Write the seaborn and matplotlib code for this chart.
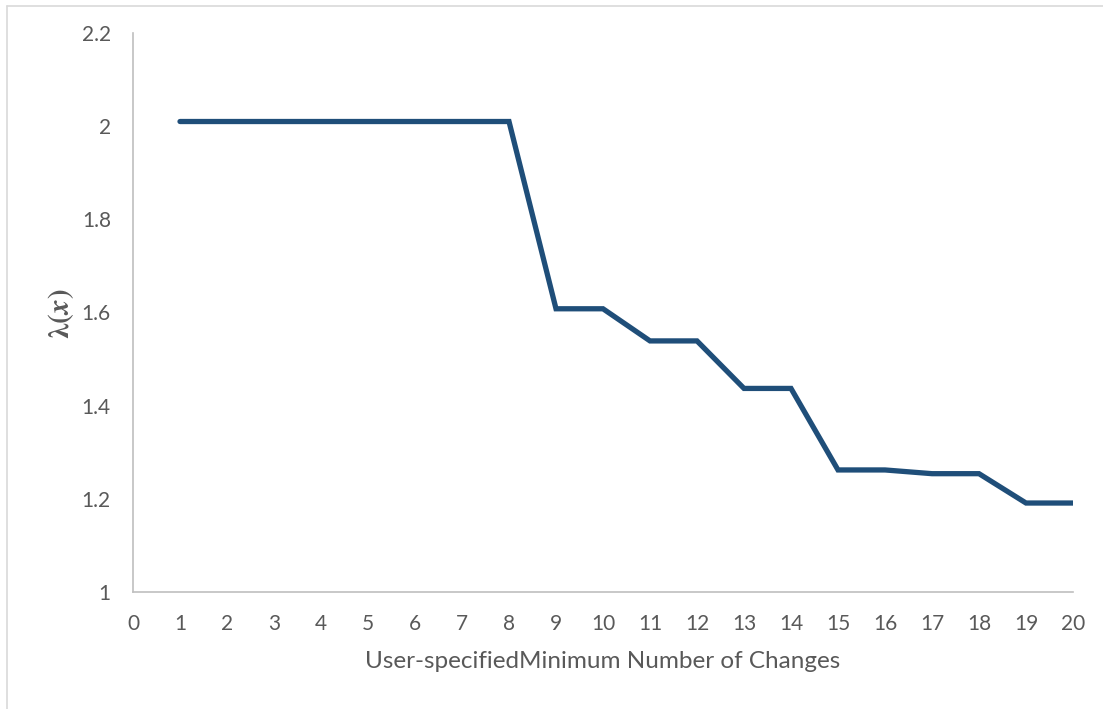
import matplotlib
matplotlib.use("Agg")
import matplotlib.pyplot as plt
from matplotlib.lines import Line2D
import seaborn as sns
import pandas as pd

# Data
changes = [1, 2, 3, 4, 5, 6, 7, 8, 9, 10, 11, 12, 13, 14, 15, 16, 17, 18, 19, 20]
lam = [2.01, 2.01, 2.01, 2.01, 2.01, 2.01, 2.01, 2.01, 1.608, 1.608,
       1.539, 1.539, 1.437, 1.437, 1.262, 1.262, 1.254, 1.254, 1.191, 1.191]
x_ticks = list(range(0, 21))
y_ticks = [1, 1.2, 1.4, 1.6, 1.8, 2, 2.2]
y_tick_labels = ["1", "1.2", "1.4", "1.6", "1.8", "2", "2.2"]
x_label = "User-specifiedMinimum Number of Changes"
y_label = r"$\boldsymbol{\lambda(x)}$"

df = pd.DataFrame({"changes": changes, "lam": lam})

sns.set_theme(style="white")
plt.rcParams["font.family"] = ["Lato", "DejaVu Sans"]
plt.rcParams["mathtext.fontset"] = "stix"

W, H = 1103, 709
fig = plt.figure(figsize=(W / 100, H / 100), dpi=100)
ax = fig.add_axes([133 / W, 1 - 592 / H, (1073 - 133) / W, (592 - 33) / H])

sns.lineplot(data=df, x="changes", y="lam", ax=ax, color="#1F4E79",
             linewidth=3.8, solid_capstyle="round", solid_joinstyle="miter")

ax.set_xlim(0, 20)
ax.set_ylim(1, 2.2)
ax.set_xticks(x_ticks)
ax.set_xticklabels([str(t) for t in x_ticks])
ax.set_yticks(y_ticks)
ax.set_yticklabels(y_tick_labels)

grey = "#595959"
ax.tick_params(axis="both", length=0, labelsize=15, colors=grey)
ax.tick_params(axis="x", pad=16)
ax.tick_params(axis="y", pad=16)

for side in ["top", "right"]:
    ax.spines[side].set_visible(False)
for side in ["left", "bottom"]:
    ax.spines[side].set_color("#BFBFBF")
    ax.spines[side].set_linewidth(1.2)

ax.set_xlabel(x_label, fontsize=17.5, color=grey, labelpad=12)
ax.set_ylabel("")
fig.text(61 / W, 1 - 314 / H, y_label, rotation=90, ha="center", va="center",
         fontsize=21, color=grey)

# figure border (left and top)
fig.add_artist(Line2D([7 / W, 7 / W], [0, 1 - 6 / H], transform=fig.transFigure,
                      color="#D9D9D9", linewidth=1.2))
fig.add_artist(Line2D([7 / W, 1], [1 - 6 / H, 1 - 6 / H], transform=fig.transFigure,
                      color="#D9D9D9", linewidth=1.2))

fig.savefig("out.png", dpi=100, facecolor="white")
